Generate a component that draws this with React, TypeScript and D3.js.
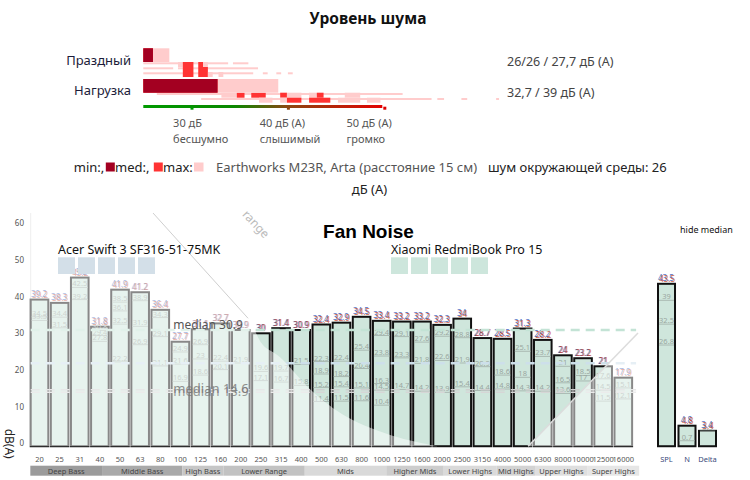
import { useEffect, useRef } from 'react';
import * as d3 from 'd3';

// ---------- Уровень шума ----------
const rowLabels = ['Праздный', 'Нагрузка'];
const rowMin = [26, 32.7];
const rowMed = [26, 32.7];
const rowMax = [27.7, 39];
const rowValues = ['26/26 / 27,7 дБ (А)', '32,7 / 39 дБ (А)'];
const levelTicks = [30, 40, 50];
const levelTickLabels = ['30 дБ', '40 дБ (А)', '50 дБ (А)'];
const levelTickWords = ['бесшумно', 'слышимый', 'громко'];

// other laptops of the class: [row, sub-row, from dB, to dB]
const refLines: number[][] = [
  [0, 0, 25, 33.8], [0, 0, 34.3, 35.9],
  [0, 1, 25, 28.1], [0, 1, 28.6, 36.9],
  [0, 2, 25, 36.4], [0, 2, 37.4, 37.9], [0, 2, 38.8, 39.3], [0, 2, 40.0, 40.5],
  [1, 0, 26.4, 51.9],
  [1, 1, 31.0, 54.9], [1, 1, 55.5, 56.2], [1, 1, 58.0, 58.6], [1, 1, 61.6, 61.9],
];
// [row, sub-row, from dB, to dB, 1 = median, 0 = max]
const refBlocks: number[][] = [
  [0, 0, 28.6, 29.1, 0], [0, 0, 29.1, 30.2, 1], [0, 1, 29.1, 30.2, 1], [0, 2, 29.1, 30.2, 1],
  [0, 0, 30.7, 31.2, 1], [0, 0, 31.2, 31.7, 0], [0, 1, 30.7, 31.7, 1], [0, 2, 30.7, 31.7, 1],
  [0, 2, 31.7, 32.2, 0], [0, 2, 32.8, 33.3, 0],
  [1, 0, 33.1, 34.7, 0], [1, 0, 34.7, 35.5, 1], [1, 0, 36.2, 37.7, 1], [1, 0, 39.2, 39.9, 1],
  [1, 0, 39.9, 41.4, 0], [1, 0, 42.2, 43.0, 0], [1, 0, 43.0, 43.7, 1], [1, 0, 45.9, 47.5, 0],
  [1, 1, 37.0, 38.4, 0], [1, 1, 39.2, 39.9, 0], [1, 1, 39.9, 41.4, 1], [1, 1, 42.2, 44.4, 1],
  [1, 1, 45.2, 47.5, 0], [1, 1, 48.2, 49.6, 0],
];

// ---------- Fan Noise ----------
const freqs = ['20', '25', '31', '40', '50', '63', '80', '100', '125', '160', '200', '250', '315', '400', '500',
  '630', '800', '1000', '1250', '1600', '2000', '2500', '3150', '4000', '5000', '6300', '8000', '10000', '12500', '16000'];
const fanMax = [39.2, 38.3, 45.2, 31.8, 41.9, 41.2, 36.4, 27.7, 31.1, 32.7, 30.9, 30.0, 31.4, 30.9, 32.4,
  32.9, 34.5, 33.4, 33.2, 33.2, 32.3, 34.0, 28.7, 28.5, 31.3, 28.2, 24.0, 23.2, 21.0, 17.9];
const fanInner = [
  [34.5, 33.5], [34.4, 31.5], [42.5, 39.2], [30.8, 29.4, 27.8], [38.5, 36.1, 32.5, 22.2],
  [38.9, 31.9, 26.9], [34.3, 29.1, 21.1], [24.9, 21.6, 16.9], [26.9, 23.0, 18.6], [22.4, 20.1],
  [21.9], [19.6, 17.1], [19.7, 16.7], [21.5, 15.8], [22.3, 18.9, 15.2, 11.4],
  [22.4, 18.2, 15.4, 11.5], [25.4, 20.4, 15.1, 11.6], [29.4, 23.8, 16.3, 14.5, 10.4], [29.1, 23.3, 14.7], [27.6, 21.8, 14.2],
  [29.2, 22.6, 13.9], [28.8, 21.9, 15.4], [20.9, 14.4], [18.6, 14.8], [25.1, 18.0, 14.3],
  [23.7, 14.2], [21.0, 16.5, 13.6], [18.5, 17.0], [17.6, 14.5, 11.5], [15.1, 12.1],
];
const summaryNames = ['SPL', 'N', 'Delta'];
const summaryMax = [43.5, 4.8, 3.4];
const summaryInner = [[39, 32.5, 26.8], [0.7], [3.3]];
const yTicks = [0, 10, 20, 30, 40, 50, 60];
const bandNames = ['Deep Bass', 'Middle Bass', 'High Bass', 'Lower Range', 'Mids', 'Higher Mids',
  'Lower Highs', 'Mid Highs', 'Upper Highs', 'Super Highs'];
const bandEdgesHz = [18, 41, 103, 165, 420, 1070, 2070, 3800, 5900, 10800, 19500];
const medianLevels = [30.9, 21.8, 14.6, 13.9];
const medianLabels = ['median 30.9', 'median 14.6', 'median 13.9'];
const deviceNames = ['Acer Swift 3 SF316-51-75MK', 'Xiaomi RedmiBook Pro 15'];
// boundary of the "range" shading: [bin index, dB]
const rangeCurve: [number, number][] = [
  [5.64, 62.8], [10.36, 34.1], [11.1, 26.8], [11.95, 23.5], [13.59, 14.0],
  [15.28, 7.2], [17.76, 1.7], [19.75, -0.8],
];
const highFade: [number, number][] = [[24.27, -0.8], [29.73, 30.1], [29.73, -0.8]];

export default function App() {
  const svgRef = useRef<SVGSVGElement>(null);

  useEffect(() => {
    if (!svgRef.current) return;
    const svg = d3.select(svgRef.current);
    svg.selectAll('*').remove();
    const sans = "'Noto Sans', 'Open Sans', sans-serif";

    // ===== noise level block =====
    const lx = d3.scaleLinear().domain([25, 50]).range([143.3, 384.3]);
    const rowY = d3.scalePoint<number>().domain([0, 1]).range([48.3, 79]);
    const barH = 13.7;
    const subH = 5;
    const g1 = svg.append('g').attr('font-family', sans);

    g1.append('text')
      .attr('x', 368).attr('y', 24)
      .attr('text-anchor', 'middle')
      .attr('font-weight', 'bold')
      .attr('font-size', 15.5)
      .attr('fill', '#111')
      .text('Уровень шума');

    refLines.forEach(([r, s, a, b]) => {
      g1.append('rect')
        .attr('x', lx(a)).attr('y', rowY(r)! + barH + s * subH + 0.3)
        .attr('width', lx(b) - lx(a)).attr('height', 2)
        .attr('fill', '#ffcccc');
    });
    refBlocks.forEach(([r, s, a, b, k]) => {
      g1.append('rect')
        .attr('x', lx(a)).attr('y', rowY(r)! + barH + s * subH)
        .attr('width', lx(b) - lx(a)).attr('height', subH)
        .attr('fill', k ? '#ff3333' : '#ffcccc');
    });

    rowLabels.forEach((lab, r) => {
      const y = rowY(r)!;
      g1.append('rect').attr('x', lx(25)).attr('y', y).attr('width', lx(rowMax[r]) - lx(25)).attr('height', barH).attr('fill', '#ffcccc');
      g1.append('rect').attr('x', lx(25)).attr('y', y).attr('width', lx(rowMed[r]) - lx(25)).attr('height', barH).attr('fill', '#ff3333');
      g1.append('rect').attr('x', lx(25)).attr('y', y).attr('width', lx(rowMin[r]) - lx(25)).attr('height', barH).attr('fill', '#a30021');
      g1.append('text')
        .attr('x', 131).attr('y', y + 16.5 - r * 0.5)
        .attr('text-anchor', 'end')
        .attr('font-size', 13)
        .attr('fill', '#1c1c3a')
        .text(lab);
      g1.append('text')
        .attr('x', 507).attr('y', y + 17.7)
        .attr('font-size', 12.5)
        .attr('fill', '#444')
        .text(rowValues[r]);
    });

    const grad = svg.append('defs').append('linearGradient')
      .attr('id', 'lvl-grad').attr('x1', '0%').attr('x2', '100%').attr('y1', '0%').attr('y2', '0%');
    [[0, '#009a00'], [0.38, '#0a8800'], [0.6, '#8a4812'], [1, '#e40000']].forEach(([o, c]) => {
      grad.append('stop').attr('offset', o as number).attr('stop-color', c as string);
    });
    g1.append('rect')
      .attr('x', lx(25)).attr('y', 105)
      .attr('width', lx(50) - lx(25) - 2).attr('height', 3)
      .attr('fill', 'url(#lvl-grad)');
    const tickCol = ['#009900', '#8b4513', '#dd0000'];
    levelTicks.forEach((t, i) => {
      g1.append('rect').attr('x', lx(t) - 1).attr('y', 106.7).attr('width', 3).attr('height', 3).attr('fill', tickCol[i]);
      const tx = lx(30) - 18.4 + i * 86.7;
      g1.append('text').attr('x', tx).attr('y', 127).attr('font-size', 11).attr('fill', '#555').text(levelTickLabels[i]);
      g1.append('text').attr('x', tx).attr('y', 143).attr('font-size', 11).attr('fill', '#555').text(levelTickWords[i]);
    });

    // legend line (a centred paragraph that wraps)
    const ly = 171.5;
    const leg = g1.append('g').attr('font-size', 13);
    leg.append('text').attr('x', 73.8).attr('y', ly).attr('fill', '#222').text('min:,');
    leg.append('rect').attr('x', 105.8).attr('y', 162.5).attr('width', 9).attr('height', 9).attr('fill', '#a30021');
    leg.append('text').attr('x', 115).attr('y', ly).attr('fill', '#222').text('med:,');
    leg.append('rect').attr('x', 153.8).attr('y', 162.5).attr('width', 9).attr('height', 9).attr('fill', '#ff3333');
    leg.append('text').attr('x', 163).attr('y', ly).attr('fill', '#222').text('max:');
    leg.append('rect').attr('x', 194).attr('y', 162.5).attr('width', 9.5).attr('height', 9).attr('fill', '#ffcccc');
    leg.append('text').attr('x', 216).attr('y', ly).attr('fill', '#555').text('Earthworks M23R, Arta (расстояние 15 см)');
    leg.append('text').attr('x', 488).attr('y', ly).attr('fill', '#222').text('шум окружающей среды: 26');
    leg.append('text').attr('x', 369.5).attr('y', ly + 22).attr('text-anchor', 'middle').attr('fill', '#222').text('дБ (А)');

    // ===== Fan Noise chart =====
    const y = d3.scaleLinear().domain([0, 60]).range([443.3, 223.3]);
    const xi = d3.scaleLinear().domain([0, 29]).range([39.5, 623.3]);
    const step = xi(1) - xi(0);
    const bw = step * 0.875;
    const yBase = y(-0.8);
    const g2 = svg.append('g').attr('font-family', sans);

    // y axis
    g2.append('line').attr('x1', 30.7).attr('x2', 30.7).attr('y1', 213).attr('y2', yBase).attr('stroke', '#ddd');
    yTicks.forEach(t => {
      g2.append('text').attr('x', 24).attr('y', y(t) + 3).attr('text-anchor', 'end')
        .attr('font-size', 8).attr('fill', '#555').text(t);
    });
    g2.append('text')
      .attr('transform', `translate(4.5,${y(4)}) rotate(90)`)
      .attr('font-size', 12).attr('fill', '#222')
      .text('dB(A)');

    const bars = g2.append('g');
    const drawBar = (cx: number, w: number, top: number, inner: number[]) => {
      bars.append('rect')
        .attr('x', cx - w / 2).attr('y', y(top))
        .attr('width', w).attr('height', yBase - y(top))
        .attr('fill', '#cfe6dc').attr('stroke', '#111').attr('stroke-width', 2);
      inner.forEach(v => {
        bars.append('line')
          .attr('x1', cx - w / 2 + 1).attr('x2', cx + w / 2 - 1)
          .attr('y1', y(v)).attr('y2', y(v))
          .attr('stroke', '#a9b9b2').attr('stroke-width', 1);
        bars.append('text')
          .attr('x', cx).attr('y', y(v) - 1).attr('text-anchor', 'middle')
          .attr('font-size', 7.5).attr('fill', '#9aa6a1').text(v);
      });
      bars.append('text')
        .attr('x', cx - 0.6).attr('y', y(top) - 2.5).attr('text-anchor', 'middle')
        .attr('font-size', 8).attr('fill', '#3a5fc0').attr('opacity', 0.9).text(top);
      bars.append('text')
        .attr('x', cx + 0.6).attr('y', y(top) - 2).attr('text-anchor', 'middle')
        .attr('font-size', 8).attr('fill', '#c8412a').attr('opacity', 0.85).text(top);
    };
    fanMax.forEach((v, i) => drawBar(xi(i), bw, v, fanInner[i]));

    const xs = d3.scaleBand().domain(summaryNames).range([658, 716]).paddingInner(0.17);
    summaryNames.forEach((n, i) => drawBar(xs(n)! + xs.bandwidth() / 2, xs.bandwidth(), summaryMax[i], summaryInner[i]));

    // median lines
    const medStroke = ['#c3e3d5', '#cddfea', '#cfcfcf', '#d6d6d6'];
    medianLevels.forEach((m, i) => {
      g2.append('line')
        .attr('x1', 30.7).attr('x2', xi(29) + bw / 2 + 4)
        .attr('y1', y(m)).attr('y2', y(m))
        .attr('stroke', medStroke[i]).attr('stroke-width', i < 2 ? 2.5 : 1.5)
        .attr('stroke-dasharray', '9,6');
    });

    // fade of the range outside the device focus
    const curve = d3.line<[number, number]>()
      .x(d => xi(d[0])).y(d => y(d[1]))
      .curve(d3.curveCatmullRom)(rangeCurve)!;
    const first = rangeCurve[0];
    const last = rangeCurve[rangeCurve.length - 1];
    g2.append('path')
      .attr('d', `M${xi(-0.5)},${y(first[1])}L${curve.slice(1)}L${xi(-0.5)},${y(last[1])}Z`)
      .attr('fill', '#fff').attr('opacity', 0.5);
    g2.append('path')
      .attr('d', d3.line<[number, number]>().x(d => xi(d[0])).y(d => y(d[1]))(highFade) + 'Z')
      .attr('fill', '#fff').attr('opacity', 0.5);
    g2.append('line')
      .attr('x1', xi(first[0])).attr('y1', y(first[1]))
      .attr('x2', xi(rangeCurve[1][0])).attr('y2', y(rangeCurve[1][1]))
      .attr('stroke', '#cfcfcf').attr('stroke-width', 1);
    g2.append('line')
      .attr('x1', xi(highFade[0][0])).attr('y1', y(highFade[0][1]))
      .attr('x2', xi(highFade[1][0])).attr('y2', y(highFade[1][1]))
      .attr('stroke', '#dcdcdc').attr('stroke-width', 1.5);
    g2.append('text')
      .attr('transform', `translate(${xi(10.6)},${y(59)}) rotate(47)`)
      .attr('text-anchor', 'middle').attr('font-size', 12).attr('fill', '#bbb')
      .text('range');

    // median labels
    g2.append('text').attr('x', xi(6.65)).attr('y', y(31.2)).attr('font-size', 12).attr('fill', '#555').text(medianLabels[0]);
    g2.append('text').attr('x', xi(6.65)).attr('y', y(13.6)).attr('font-size', 13).attr('fill', '#777').attr('opacity', 0.8).text(medianLabels[1]);
    g2.append('text').attr('x', xi(6.65)).attr('y', y(12.8)).attr('font-size', 13).attr('fill', '#777').attr('opacity', 0.7).text(medianLabels[2]);

    // device legends
    const devX = [58, 391];
    const devCol = ['#d3dfe8', '#cde6dc'];
    deviceNames.forEach((name, d) => {
      g2.append('text').attr('x', devX[d]).attr('y', 254).attr('font-size', 12.5).attr('fill', '#111').text(name);
      d3.range(5).forEach(k => {
        g2.append('rect').attr('x', devX[d] + k * 20).attr('y', 257.3)
          .attr('width', 17).attr('height', 16.7).attr('fill', devCol[d]);
      });
    });

    // x labels and bands
    freqs.forEach((f, i) => {
      g2.append('text').attr('x', xi(i)).attr('y', 461.5).attr('text-anchor', 'middle')
        .attr('font-size', 7.5).attr('fill', '#555').text(f);
    });
    summaryNames.forEach(n => {
      g2.append('text').attr('x', xs(n)! + xs.bandwidth() / 2).attr('y', 461.5).attr('text-anchor', 'middle')
        .attr('font-size', 7.5).attr('fill', '#3a4a7a').text(n);
    });
    const bx = (hz: number) => xi(3 * Math.log2(hz / 20));
    const bandCol = ['#9b9b9b', '#a9a9a9', '#c6c6c6', '#c2c2c2', '#d9d9d9', '#cdcdcd', '#dadada', '#d3d3d3', '#dfdfdf', '#e6e6e6'];
    bandNames.forEach((b, i) => {
      const x0 = bx(bandEdgesHz[i]);
      const x1 = bx(bandEdgesHz[i + 1]);
      g2.append('rect').attr('x', x0).attr('y', 465.7).attr('width', x1 - x0).attr('height', 10).attr('fill', bandCol[i]);
      g2.append('text').attr('x', (x0 + x1) / 2).attr('y', 473.8).attr('text-anchor', 'middle')
        .attr('font-size', 7.5).attr('fill', '#444').text(b);
    });

    g2.append('text').attr('x', 368.5).attr('y', 237.5).attr('text-anchor', 'middle')
      .attr('font-family', "'Liberation Sans', Arial, sans-serif")
      .attr('font-weight', 'bold').attr('font-size', 19).attr('fill', '#000').text('Fan Noise');
    g2.append('text').attr('x', 680).attr('y', 233).attr('font-size', 9).attr('fill', '#111').text('hide median');
  }, []);

  return (
    <svg
      ref={svgRef}
      width={750}
      height={480}
      style={{ position: 'absolute', left: 0, top: 0, background: '#fff' }}
    />
  );
}
